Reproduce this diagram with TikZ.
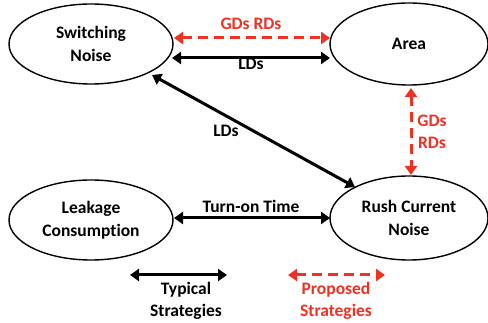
\documentclass[tikz,border=0pt]{standalone}
\usepackage{fontspec}
\setmainfont[Ligatures=NoCommon]{Carlito}
\usetikzlibrary{arrows.meta,shapes.geometric}
\definecolor{pred}{RGB}{237,50,36}
\begin{document}
\begin{tikzpicture}[x=1pt,y=-1pt,
  ell/.style={draw,line width=1.4pt,ellipse,inner sep=0pt,minimum width=164pt,minimum height=80pt,font=\fontsize{17.5}{22.5}\selectfont\bfseries,align=center},
  lbl/.style={font=\fontsize{17.5}{22}\selectfont\bfseries,align=center},
  blk/.style={line width=3pt,{Triangle[length=9pt,width=12pt]}-{Triangle[length=9pt,width=12pt]}},
  rdd/.style={line width=3pt,draw=pred,dash pattern=on 10pt off 6pt,{Triangle[length=9pt,width=12pt,fill=pred]}-{Triangle[length=9pt,width=12pt,fill=pred]}}]
\useasboundingbox (0,0) rectangle (488,323);
\node[ell] (sw) at (91,44) {Switching\\Noise};
\node[ell,minimum width=158pt,minimum height=82pt] (area) at (409,44) {Area};
\node[ell] (lk) at (91,220) {Leakage\\Consumption};
\node[ell,minimum width=158pt,minimum height=84pt] (rc) at (409,218) {Rush Current\\Noise};
\coordinate (sw1) at (174,38); \coordinate (ar1) at (330,38);
\coordinate (sw2) at (172,58); \coordinate (ar2) at (330,58);
\draw[rdd] (sw1) -- (ar1);
\node[lbl,text=pred] (l1) at (251,24) {GDs RDs};
\draw[blk] (sw2) -- (ar2);
\node[lbl] (l2) at (251,64) {LDs};
\coordinate (d1) at (152,75); \coordinate (d2) at (355,187);
\draw[blk] (d1) -- (d2);
\node[lbl] (l3) at (226,131) {LDs};
\coordinate (v1) at (411,88); \coordinate (v2) at (411,175);
\draw[rdd] (v1) -- (v2);
\node[lbl,text=pred] (l4) at (432,132) {GDs\\RDs};
\coordinate (t1) at (174,218); \coordinate (t2) at (330,218);
\draw[blk] (t1) -- (t2);
\node[lbl] (l5) at (251,206) {Turn-on Time};
\coordinate (g1) at (130,275); \coordinate (g2) at (227,275);
\draw[blk] (g1) -- (g2);
\node[lbl] (l6) at (186,301) {Typical\\Strategies};
\coordinate (h1) at (288,275); \coordinate (h2) at (385,275);
\draw[rdd] (h1) -- (h2);
\node[lbl,text=pred] (l7) at (336,301) {Proposed\\Strategies};
\end{tikzpicture}
\end{document}
